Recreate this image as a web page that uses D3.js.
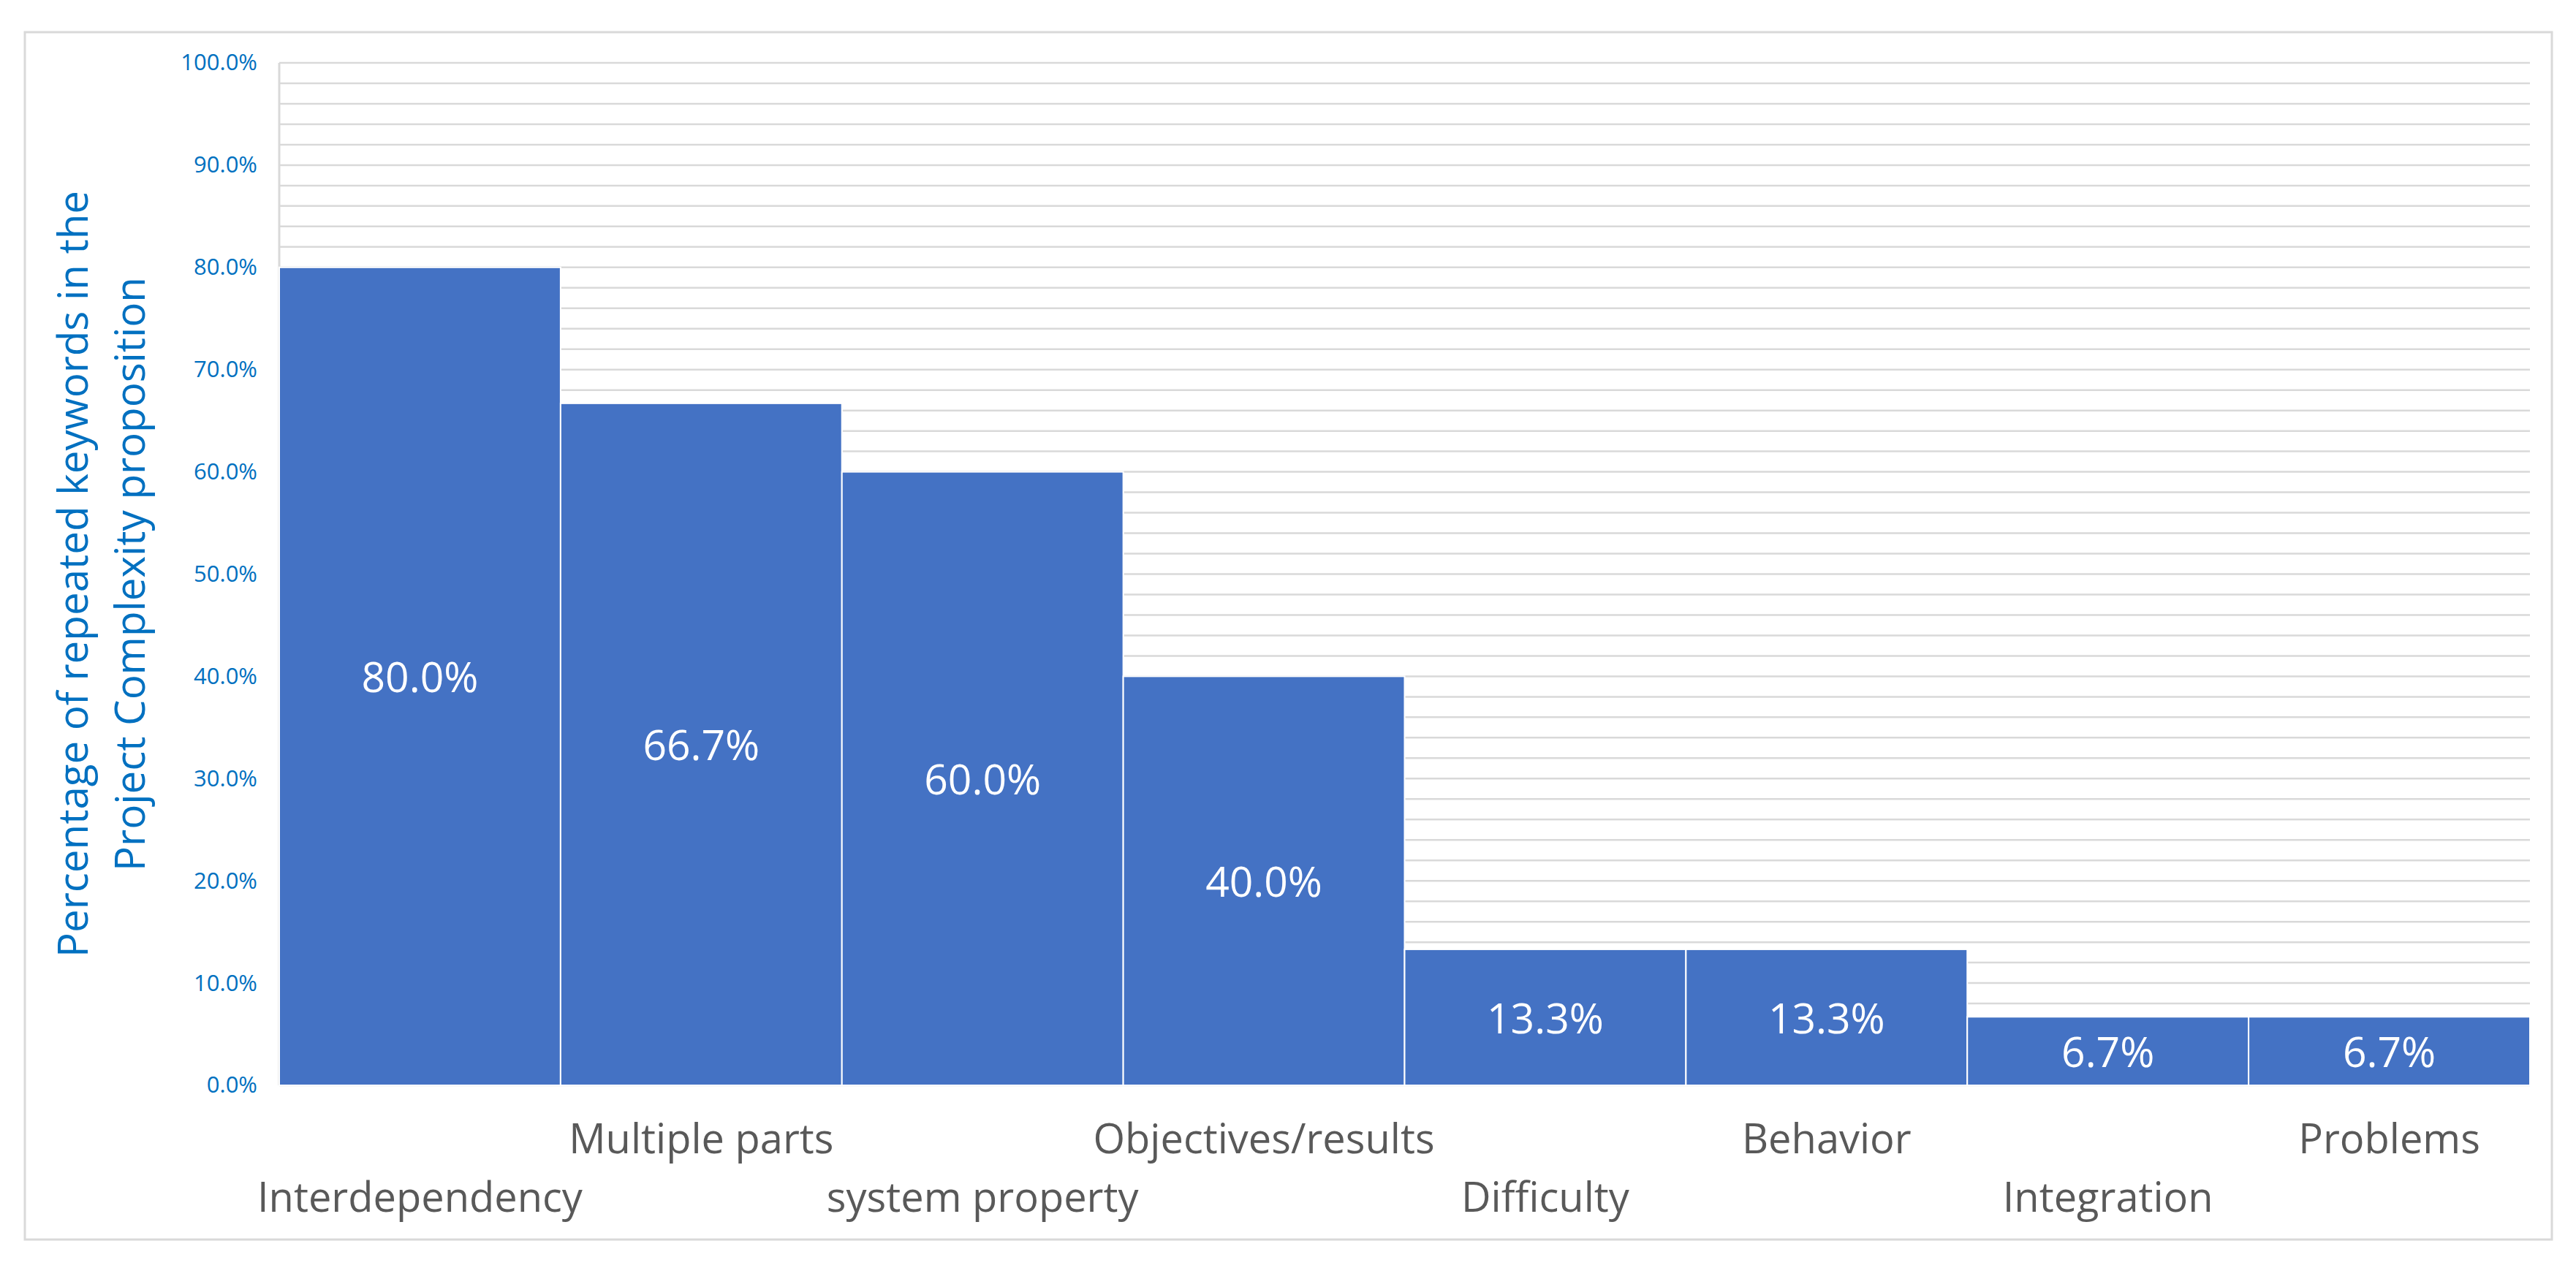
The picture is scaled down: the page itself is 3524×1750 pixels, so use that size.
<!DOCTYPE html>
<html>
<head>
<meta charset="utf-8">
<script src="https://cdn.jsdelivr.net/npm/d3@7"></script>
<style>
  html, body { margin: 0; padding: 0; background: #fff; }
  svg { display: block; }
</style>
</head>
<body>
<svg id="chart" width="3524" height="1750"></svg>
<script>
const categories = ["Interdependency", "Multiple parts", "system property", "Objectives/results",
                    "Difficulty", "Behavior", "Integration", "Problems"];
const values = [0.800, 0.667, 0.600, 0.400, 0.133, 0.133, 0.067, 0.067];
const yTickValues = [0, 0.1, 0.2, 0.3, 0.4, 0.5, 0.6, 0.7, 0.8, 0.9, 1.0];
const yGridValues = d3.range(0, 51).map(i => i / 50);
const yTitleLines = ["Percentage of repeated keywords in the", "Project Complexity proposition"];

const W = 3524, H = 1750;
const margin = { left: 382, right: W - 3461, top: 86, bottom: H - 1485 };
const svg = d3.select("#chart");

// outer chart border
svg.append("rect")
  .attr("x", 34).attr("y", 44).attr("width", 3491 - 34).attr("height", 1696 - 44)
  .attr("fill", "#fff").attr("stroke", "#d9d9d9").attr("stroke-width", 3);

const x = d3.scaleBand().domain(categories).range([margin.left, W - margin.right]).paddingInner(0).paddingOuter(0);
const y = d3.scaleLinear().domain([0, 1]).range([H - margin.bottom, margin.top]);

// gridlines
svg.append("g").selectAll("line").data(yGridValues).join("line")
  .attr("x1", margin.left).attr("x2", W - margin.right)
  .attr("y1", d => y(d)).attr("y2", d => y(d))
  .attr("stroke", "#d9d9d9").attr("stroke-width", 2.5);

// left axis line
svg.append("line")
  .attr("x1", margin.left).attr("x2", margin.left)
  .attr("y1", y(1)).attr("y2", y(0))
  .attr("stroke", "#d9d9d9").attr("stroke-width", 3);

// bars
svg.append("g").selectAll("rect").data(values).join("rect")
  .attr("x", (d, i) => x(categories[i]))
  .attr("y", d => y(d))
  .attr("width", x.bandwidth())
  .attr("height", d => y(0) - y(d))
  .attr("fill", "#4472C4")
  .attr("stroke", "#ffffff").attr("stroke-width", 2);

// bar labels
svg.append("g").selectAll("text").data(values).join("text")
  .attr("x", (d, i) => x(categories[i]) + x.bandwidth() / 2)
  .attr("y", d => (y(d) + y(0)) / 2)
  .attr("text-anchor", "middle")
  .attr("dominant-baseline", "central")
  .attr("fill", "#ffffff")
  .attr("font-family", "'Open Sans', sans-serif")
  .attr("font-size", 57)
  .text(d => d3.format(".1%")(d));

// y axis
const yAxis = d3.axisLeft(y).tickValues(yTickValues).tickFormat(d3.format(".1%")).tickSize(0).tickPadding(30);
const gy = svg.append("g").attr("transform", `translate(${margin.left},0)`).call(yAxis);
gy.select(".domain").remove();
gy.selectAll("text")
  .attr("fill", "#0070C0")
  .attr("font-family", "'Open Sans', sans-serif")
  .attr("font-size", 31);

// x labels, staggered
svg.append("g").selectAll("text").data(categories).join("text")
  .attr("x", d => x(d) + x.bandwidth() / 2)
  .attr("y", (d, i) => i % 2 === 0 ? 1658 : 1578)
  .attr("text-anchor", "middle")
  .attr("fill", "#595959")
  .attr("font-family", "'Open Sans', sans-serif")
  .attr("font-size", 56)
  .text(d => d);

// y title
const cy = (y(0) + y(1)) / 2;
svg.append("g").selectAll("text").data(yTitleLines).join("text")
  .attr("transform", (d, i) => `translate(${120 + i * 78},${cy}) rotate(-90)`)
  .attr("text-anchor", "middle")
  .attr("fill", "#0070C0")
  .attr("font-family", "'Open Sans', sans-serif")
  .attr("font-size", 56.5)
  .text(d => d);
</script>
</body>
</html>
